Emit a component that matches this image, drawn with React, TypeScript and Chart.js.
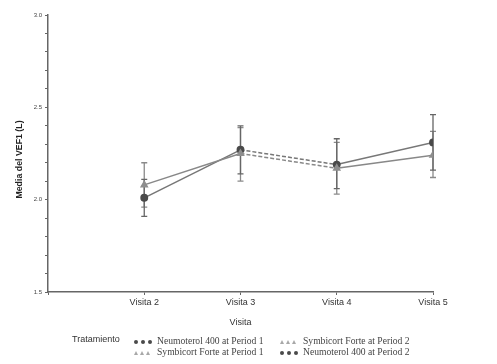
import React, { useEffect, useRef } from "react";
import { Chart, registerables } from "chart.js";
Chart.register(...registerables);

const visits = ["Visita 2", "Visita 3", "Visita 4", "Visita 5"];
const neumoterolMean = [2.01, 2.27, 2.19, 2.31];
const neumoterolLow = [1.91, 2.14, 2.06, 2.16];
const neumoterolHigh = [2.11, 2.4, 2.33, 2.46];
const symbicortMean = [2.08, 2.25, 2.17, 2.24];
const symbicortLow = [1.96, 2.1, 2.03, 2.12];
const symbicortHigh = [2.2, 2.39, 2.31, 2.37];
const yMajorTicks = [1.5, 2.0, 2.5, 3.0];
const yTitle = "Media del VEF1 (L)";
const legendTitle = "Tratamiento";
const legendRow1 = [
  { label: "Neumoterol 400 at Period 1", marker: "circle" },
  { label: "Symbicort Forte at Period 2", marker: "triangle" },
];
const legendRow2 = [
  { label: "Symbicort Forte at Period 1", marker: "triangle" },
  { label: "Neumoterol 400 at Period 2", marker: "circle" },
];

const DARK = "#4a4a4a";
const LIGHT = "#8e8e8e";

const errorBarsPlugin = {
  id: "errorBars",
  beforeDatasetsDraw(chart: any) {
    const ctx = chart.ctx;
    const xs = chart.scales.x;
    const ys = chart.scales.y;
    chart.data.datasets.forEach((ds: any) => {
      if (!ds.errLow) return;
      ctx.save();
      ctx.strokeStyle = ds.errColor;
      ctx.lineWidth = 1.3;
      ds.data.forEach((p: any, i: number) => {
        const x = xs.getPixelForValue(p.x);
        const y1 = ys.getPixelForValue(ds.errLow[i]);
        const y2 = ys.getPixelForValue(ds.errHigh[i]);
        ctx.beginPath();
        ctx.moveTo(x, y1);
        ctx.lineTo(x, y2);
        ctx.moveTo(x - 3, y1);
        ctx.lineTo(x + 3, y1);
        ctx.moveTo(x - 3, y2);
        ctx.lineTo(x + 3, y2);
        ctx.stroke();
      });
      ctx.restore();
    });
  },
};

const yTitlePlugin = {
  id: "yTitle",
  afterDraw(chart: any) {
    const ctx = chart.ctx;
    const ys = chart.scales.y;
    ctx.save();
    ctx.translate(20, (ys.top + ys.bottom) / 2 + 6);
    ctx.rotate(-Math.PI / 2);
    ctx.font = "bold 8.8px 'Liberation Sans'";
    ctx.fillStyle = "#222";
    ctx.textAlign = "center";
    ctx.textBaseline = "middle";
    ctx.fillText(yTitle, 0, 0);
    ctx.restore();
  },
};

function Marker({ type }: { type: string }) {
  const items = [0, 1, 2].map((i) =>
    type === "circle" ? (
      <span
        key={i}
        style={{
          display: "inline-block",
          width: 4,
          height: 4,
          borderRadius: 2,
          background: DARK,
          marginRight: 3,
          verticalAlign: "middle",
        }}
      />
    ) : (
      <span
        key={i}
        style={{
          display: "inline-block",
          width: 0,
          height: 0,
          borderLeft: "2.5px solid transparent",
          borderRight: "2.5px solid transparent",
          borderBottom: "4px solid #a8a8a8",
          marginRight: 2,
          verticalAlign: "middle",
        }}
      />
    )
  );
  return <span style={{ display: "inline-block", width: 23 }}>{items}</span>;
}

export default function App() {
  const ref = useRef<HTMLCanvasElement>(null);
  useEffect(() => {
    if (!ref.current) return;
    const dash = (ctx: any) => (ctx.p0DataIndex === 1 ? [4, 2] : undefined);
    const chart = new Chart(ref.current, {
      type: "line",
      data: {
        datasets: [
          {
            label: "Symbicort Forte",
            data: symbicortMean.map((y, i) => ({ x: i + 1, y })),
            borderColor: "#888888",
            borderWidth: 1.5,
            pointStyle: "triangle",
            pointRadius: 3.5,
            pointBackgroundColor: LIGHT,
            pointBorderColor: LIGHT,
            segment: { borderDash: dash },
            errLow: symbicortLow,
            errHigh: symbicortHigh,
            errColor: "#8a8a8a",
          } as any,
          {
            label: "Neumoterol 400",
            data: neumoterolMean.map((y, i) => ({ x: i + 1, y })),
            borderColor: "#777777",
            borderWidth: 1.5,
            pointStyle: "circle",
            pointRadius: 3.2,
            pointBackgroundColor: DARK,
            pointBorderColor: DARK,
            segment: { borderDash: dash },
            errLow: neumoterolLow,
            errHigh: neumoterolHigh,
            errColor: "#666666",
          } as any,
        ],
      },
      options: {
        animation: false,
        responsive: false,
        maintainAspectRatio: false,
        layout: { padding: { top: 15, right: 64, bottom: 30, left: 0 } },
        plugins: { legend: { display: false }, tooltip: { enabled: false } },
        scales: {
          x: {
            type: "linear",
            min: 0,
            max: 4,
            afterFit: (s: any) => {
              s.height = 42;
            },
            ticks: {
              stepSize: 1,
              color: "#333",
              font: { family: "Liberation Sans", size: 9 },
              padding: 2,
              maxRotation: 0,
              callback: (v: any) => visits[Number(v) - 1] ?? "",
            },
            grid: { drawOnChartArea: false, tickLength: 3, color: "#666" },
            border: { color: "#666", width: 1.5 },
            title: {
              display: true,
              text: "Visita",
              color: "#333",
              font: { family: "Liberation Sans", size: 9 },
              padding: { top: 2, bottom: 6 },
            },
          },
          y: {
            min: 1.5,
            max: 3.0,
            afterFit: (s: any) => {
              s.width = 48;
            },
            ticks: {
              stepSize: 0.1,
              autoSkip: false,
              color: "#444",
              font: { family: "Liberation Sans", size: 6 },
              padding: 3,
              callback: (v: any) =>
                yMajorTicks.some((t) => Math.abs(t - Number(v)) < 1e-6)
                  ? Number(v).toFixed(1)
                  : "",
            },
            grid: { drawOnChartArea: false, tickLength: 3, color: "#666" },
            border: { color: "#666", width: 1.5 },
          },
        },
      },
      plugins: [errorBarsPlugin, yTitlePlugin],
    });
    return () => chart.destroy();
  }, []);

  const cell = (item: { label: string; marker: string }) => (
    <span style={{ display: "inline-flex", alignItems: "center" }}>
      <Marker type={item.marker} />
      <span
        style={{
          fontFamily: "Liberation Serif",
          fontSize: 9.6,
          color: "#444",
        }}
      >
        {item.label}
      </span>
    </span>
  );

  return (
    <div
      style={{
        position: "absolute",
        left: 0,
        top: 0,
        width: 497,
        height: 364,
        background: "#fff",
      }}
    >
      <canvas ref={ref} width={497} height={364} style={{ display: "block" }} />
      <div
        style={{
          position: "absolute",
          left: 72,
          top: 334,
          fontFamily: "Liberation Sans",
          fontSize: 9,
          color: "#333",
        }}
      >
        {legendTitle}
      </div>
      <div style={{ position: "absolute", left: 134, top: 335, lineHeight: "11px" }}>
        {legendRow1.map((it, i) => (
          <span key={i} style={{ position: "absolute", left: i * 146, whiteSpace: "nowrap" }}>
            {cell(it)}
          </span>
        ))}
      </div>
      <div style={{ position: "absolute", left: 134, top: 346, lineHeight: "11px" }}>
        {legendRow2.map((it, i) => (
          <span key={i} style={{ position: "absolute", left: i * 146, whiteSpace: "nowrap" }}>
            {cell(it)}
          </span>
        ))}
      </div>
    </div>
  );
}
